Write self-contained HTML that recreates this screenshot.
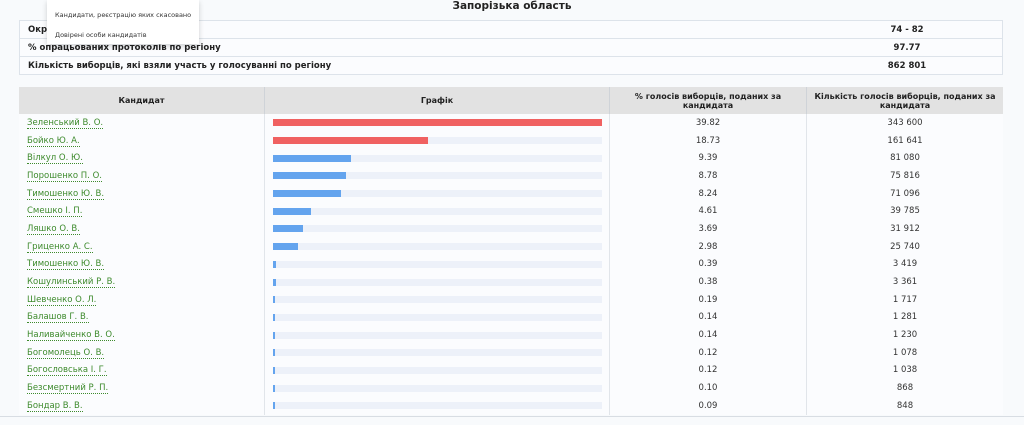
<!DOCTYPE html>
<html><head><meta charset="utf-8">
<style>
body{margin:0;width:1024px;height:425px;overflow:hidden;background:#f8fafc;font-family:"DejaVu Sans","Liberation Sans",sans-serif;position:relative;color:#222}
.abs{position:absolute}
.title{left:0;width:1024px;top:0;text-align:center;font-weight:bold;font-size:10.5px;line-height:12px}
.info{left:19px;top:20px;width:984px;border-collapse:collapse;font-size:8.5px;font-weight:bold}
.info td{border-top:1px solid #dde3ea;border-bottom:1px solid #dde3ea;height:17px;padding:0 0 0 8px;background:#fbfcfe}
.info td:first-child{border-left:1px solid #dde3ea}
.info td.v{text-align:center;width:190px;padding:0;border-right:1px solid #dde3ea}
.drop{left:47px;top:0;width:152px;height:44px;background:#fff;box-shadow:0 2px 5px rgba(0,0,0,.18);font-size:6.5px;color:#333}
.drop div{position:absolute;left:8px;white-space:nowrap}
.main{left:19px;top:87px;width:984px;border-collapse:collapse;font-size:8.5px}
.main th{background:#e2e2e2;height:27px;font-weight:bold;padding:0 6px;border-right:1px solid #cfd3d8;line-height:9px;font-size:8px}
.main td{height:17.7px;padding:0;border-right:1px solid #e1e5ea;background:#fbfcfe}
.main td.n{padding-left:8px}
.main td.n a{color:#3d8a2c;text-decoration:none;border-bottom:1px dotted #3d8a2c}
.main td.c{text-align:center;color:#333}
.track{margin-left:8px;width:329px;height:7px;background:#edf1f9;position:relative}
.bar{position:absolute;left:0;top:0;height:7px}
.foot{left:0;top:416px;width:1024px;height:1px;background:#d8dde3}
</style></head><body>
<div class="abs title">Запорізька область</div>
<table class="abs info">
<tr><td>Округи</td><td class="v">74 - 82</td></tr>
<tr><td>% опрацьованих протоколів по регіону</td><td class="v">97.77</td></tr>
<tr><td>Кількість виборців, які взяли участь у голосуванні по регіону</td><td class="v">862 801</td></tr>
</table>
<div class="abs drop">
<div style="top:11px">Кандидати, реєстрацію яких скасовано</div>
<div style="top:31px">Довірені особи кандидатів</div>
</div>
<table class="abs main">
<thead><tr>
<th style="width:233px">Кандидат</th>
<th style="width:332px">Графік</th>
<th style="width:184px">% голосів виборців, поданих за кандидата</th>
<th style="border-right:none">Кількість голосів виборців, поданих за кандидата</th>
</tr></thead>
<tbody id="rows"></tbody>
</table>
<div class="abs foot"></div>
<script>
const candidates=["Зеленський В. О.","Бойко Ю. А.","Вілкул О. Ю.","Порошенко П. О.","Тимошенко Ю. В.","Смешко І. П.","Ляшко О. В.","Гриценко А. С.","Тимошенко Ю. В.","Кошулинський Р. В.","Шевченко О. Л.","Балашов Г. В.","Наливайченко В. О.","Богомолець О. В.","Богословська І. Г.","Безсмертний Р. П.","Бондар В. В."];
const percents=[39.82,18.73,9.39,8.78,8.24,4.61,3.69,2.98,0.39,0.38,0.19,0.14,0.14,0.12,0.12,0.10,0.09];
const counts=["343 600","161 641","81 080","75 816","71 096","39 785","31 912","25 740","3 419","3 361","1 717","1 281","1 230","1 078","1 038","868","848"];
const tb=document.getElementById('rows');
const maxV=Math.max(...percents);
const x=v=>Math.max(2,v/maxV*329);
candidates.forEach((n,i)=>{
 const tr=document.createElement('tr');
 
 
 const col=i<2?'#f06161':'#64a4ee';
 tr.innerHTML='<td class="n"><a>'+n+'</a></td><td><div class="track"><div class="bar" style="width:'+x(percents[i])+'px;background:'+col+'"></div></div></td><td class="c">'+percents[i].toFixed(2)+'</td><td class="c" style="border-right:none">'+counts[i]+'</td>';
 const a=tr.querySelector('a');
 
 
 const b=tr.querySelector('.bar');
 
 
 tb.appendChild(tr);
});
</script>
</body></html>
